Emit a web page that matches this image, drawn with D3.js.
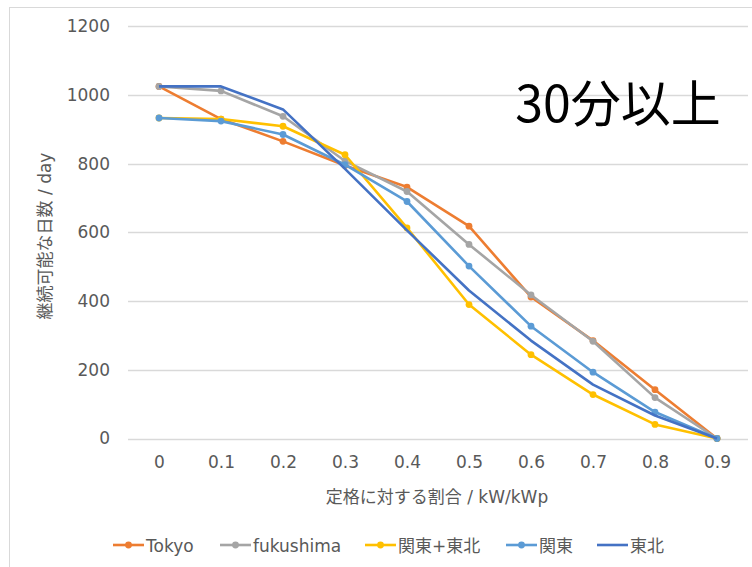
<!DOCTYPE html>
<html>
<head>
<meta charset="utf-8">
<script src="https://cdn.jsdelivr.net/npm/d3@7"></script>
<style>
  html, body { margin: 0; padding: 0; background: #fff; }
  svg { display: block; font-family: "DejaVu Sans", "Noto Sans CJK JP", sans-serif; }
</style>
</head>
<body>
<svg id="chart" width="752" height="567"></svg>
<script>
// Ratio to rated output (kW/kWp)
const categories = ["0", "0.1", "0.2", "0.3", "0.4", "0.5", "0.6", "0.7", "0.8", "0.9"];

// Days that can be sustained, per region
const seriesNames = ["Tokyo", "fukushima", "関東+東北", "関東", "東北"];
const tokyo     = [1025, 930, 865, 795, 732, 618, 412, 285, 142, 0];
const fukushima = [1025, 1012, 938, 808, 719, 565, 418, 283, 119, 0];
const kantoTohoku = [933, 930, 909, 826, 613, 390, 244, 128, 41, 0];
const kanto     = [933, 924, 885, 797, 690, 502, 327, 193, 77, 0];
const tohoku    = [1025, 1025, 958, 785, 606, 431, 285, 157, 67, 0];

const yTicks = [0, 200, 400, 600, 800, 1000, 1200];
const colors = ["#ED7D31", "#A5A5A5", "#FFC000", "#5B9BD5", "#4472C4"];
const hasMarker = [true, true, true, true, false];

const seriesValues = [tokyo, fukushima, kantoTohoku, kanto, tohoku];

const svg = d3.select("#chart");
const textColor = "#595959";

// Chart frame
svg.append("rect")
  .attr("x", 9.5).attr("y", 7.5)
  .attr("width", 760).attr("height", 580)
  .attr("fill", "none").attr("stroke", "#d9d9d9").attr("stroke-width", 1);

const plot = { left: 128, right: 748, top: 26.3, bottom: 438.5 };

const x = d3.scalePoint()
  .domain(categories)
  .range([plot.left, plot.right])
  .padding(0.5);

const y = d3.scaleLinear()
  .domain([0, 1200])
  .range([plot.bottom, plot.top]);

// Horizontal gridlines
svg.append("g")
  .selectAll("line")
  .data(yTicks)
  .join("line")
  .attr("x1", plot.left).attr("x2", plot.right)
  .attr("y1", d => Math.round(y(d)) + 0.5).attr("y2", d => Math.round(y(d)) + 0.5)
  .attr("stroke", "#d9d9d9").attr("stroke-width", 1.3);

// Y axis labels
const yAxis = d3.axisLeft(y).tickValues(yTicks).tickFormat(d3.format("d")).tickSize(0).tickPadding(0);
const gy = svg.append("g")
  .attr("transform", `translate(${plot.left - 18},0)`)
  .call(yAxis);
gy.select(".domain").remove();
gy.selectAll("text")
  .attr("fill", textColor)
  .attr("font-size", 17)
  .attr("font-family", "'DejaVu Sans', sans-serif");

// X axis labels
const xAxis = d3.axisBottom(x).tickSize(0).tickPadding(0);
const gx = svg.append("g")
  .attr("transform", `translate(0,${plot.bottom + 17})`)
  .call(xAxis);
gx.select(".domain").remove();
gx.selectAll("text")
  .attr("fill", textColor)
  .attr("font-size", 17)
  .attr("font-family", "'DejaVu Sans', sans-serif");

// Axis titles
svg.append("text")
  .attr("x", 437).attr("y", 503)
  .attr("text-anchor", "middle")
  .attr("fill", textColor)
  .attr("font-size", 17)
  .text("定格に対する割合 / kW/kWp");

svg.append("text")
  .attr("transform", "translate(51,236) rotate(-90)")
  .attr("text-anchor", "middle")
  .attr("fill", textColor)
  .attr("font-size", 17)
  .text("継続可能な日数 / day");

// Series lines and markers
const line = d3.line()
  .x((d, i) => x(categories[i]))
  .y(d => y(d));

seriesValues.forEach((vals, s) => {
  const g = svg.append("g");
  g.append("path")
    .datum(vals)
    .attr("d", line)
    .attr("fill", "none")
    .attr("stroke", colors[s])
    .attr("stroke-width", 2.6)
    .attr("stroke-linejoin", "round");
  if (hasMarker[s]) {
    g.selectAll("circle")
      .data(vals)
      .join("circle")
      .attr("cx", (d, i) => x(categories[i]))
      .attr("cy", d => y(d))
      .attr("r", 3.4)
      .attr("fill", colors[s]);
  }
});

// Annotation
svg.append("text")
  .attr("x", 618).attr("y", 122)
  .attr("text-anchor", "middle")
  .attr("fill", "#000")
  .attr("font-size", 50)
  .attr("font-family", "'Noto Sans CJK JP', sans-serif")
  .text("30分以上");

// Legend
const legendX = [113, 220, 365, 506, 597];
const legendY = 545;
const leg = svg.append("g");
seriesNames.forEach((name, s) => {
  const g = leg.append("g").attr("transform", `translate(${legendX[s]},${legendY})`);
  g.append("line")
    .attr("x1", 0).attr("x2", 31).attr("y1", 0).attr("y2", 0)
    .attr("stroke", colors[s]).attr("stroke-width", 2.6);
  if (hasMarker[s]) {
    g.append("circle").attr("cx", 15.5).attr("cy", 0).attr("r", 3.4).attr("fill", colors[s]);
  }
  g.append("text")
    .attr("x", 33).attr("y", 6.5)
    .attr("fill", textColor)
    .attr("font-size", 17)
    .text(name);
});
</script>
</body>
</html>
